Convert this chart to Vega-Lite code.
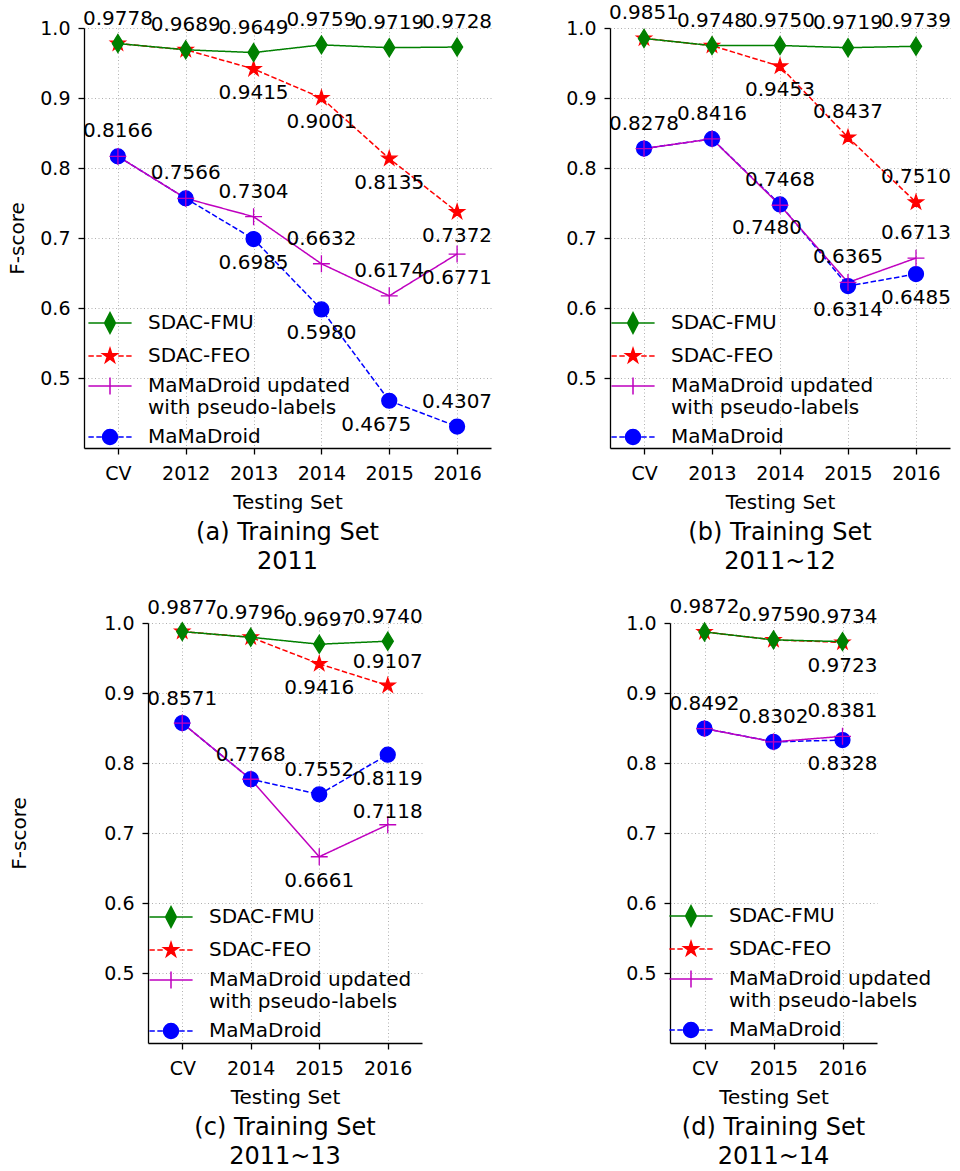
{
"$schema": "https://vega.github.io/schema/vega-lite/v6.json",
"padding": {"left": 7, "top": 3, "right": 0, "bottom": 0},
"config": {
  "font": "DejaVu Sans",
  "view": {"stroke": null},
  "axis": {"domainColor": "black", "domainWidth": 1.3, "tickColor": "black", "tickSize": 6, "tickWidth": 1.3, "labelFont": "DejaVu Sans", "labelFontSize": 19, "labelColor": "black", "titleFont": "DejaVu Sans", "titleFontSize": 20, "titleFontWeight": "normal", "titleColor": "black", "grid": true, "gridColor": "#b0b0b0", "gridDash": [1, 2.5], "gridWidth": 1},
  "axisX": {"labelAngle": 0, "labelPadding": 10, "titlePadding": 9},
  "axisY": {"labelPadding": 8, "titlePadding": 12},
  "title": {"font": "DejaVu Sans", "fontSize": 24, "fontWeight": "normal", "orient": "bottom", "anchor": "middle", "color": "black", "offset": 9, "lineHeight": 29},
  "text": {"font": "DejaVu Sans", "fontSize": 20, "color": "black"}
},
"datasets": {
  "a": [
    {"series": "MaMaDroid", "test": "CV", "f": 0.8166}, {"series": "MaMaDroid", "test": "2012", "f": 0.7566}, {"series": "MaMaDroid", "test": "2013", "f": 0.6985}, {"series": "MaMaDroid", "test": "2014", "f": 0.5980}, {"series": "MaMaDroid", "test": "2015", "f": 0.4675}, {"series": "MaMaDroid", "test": "2016", "f": 0.4307},
    {"series": "MaMaDroid updated with pseudo-labels", "test": "CV", "f": 0.8166}, {"series": "MaMaDroid updated with pseudo-labels", "test": "2012", "f": 0.7566}, {"series": "MaMaDroid updated with pseudo-labels", "test": "2013", "f": 0.7304}, {"series": "MaMaDroid updated with pseudo-labels", "test": "2014", "f": 0.6632}, {"series": "MaMaDroid updated with pseudo-labels", "test": "2015", "f": 0.6174}, {"series": "MaMaDroid updated with pseudo-labels", "test": "2016", "f": 0.6771},
    {"series": "SDAC-FEO", "test": "CV", "f": 0.9778}, {"series": "SDAC-FEO", "test": "2012", "f": 0.9689}, {"series": "SDAC-FEO", "test": "2013", "f": 0.9415}, {"series": "SDAC-FEO", "test": "2014", "f": 0.9001}, {"series": "SDAC-FEO", "test": "2015", "f": 0.8135}, {"series": "SDAC-FEO", "test": "2016", "f": 0.7372},
    {"series": "SDAC-FMU", "test": "CV", "f": 0.9778}, {"series": "SDAC-FMU", "test": "2012", "f": 0.9689}, {"series": "SDAC-FMU", "test": "2013", "f": 0.9649}, {"series": "SDAC-FMU", "test": "2014", "f": 0.9759}, {"series": "SDAC-FMU", "test": "2015", "f": 0.9719}, {"series": "SDAC-FMU", "test": "2016", "f": 0.9728}
  ],
  "b": [
    {"series": "MaMaDroid", "test": "CV", "f": 0.8278}, {"series": "MaMaDroid", "test": "2013", "f": 0.8416}, {"series": "MaMaDroid", "test": "2014", "f": 0.7480}, {"series": "MaMaDroid", "test": "2015", "f": 0.6314}, {"series": "MaMaDroid", "test": "2016", "f": 0.6485},
    {"series": "MaMaDroid updated with pseudo-labels", "test": "CV", "f": 0.8278}, {"series": "MaMaDroid updated with pseudo-labels", "test": "2013", "f": 0.8416}, {"series": "MaMaDroid updated with pseudo-labels", "test": "2014", "f": 0.7468}, {"series": "MaMaDroid updated with pseudo-labels", "test": "2015", "f": 0.6365}, {"series": "MaMaDroid updated with pseudo-labels", "test": "2016", "f": 0.6713},
    {"series": "SDAC-FEO", "test": "CV", "f": 0.9851}, {"series": "SDAC-FEO", "test": "2013", "f": 0.9748}, {"series": "SDAC-FEO", "test": "2014", "f": 0.9453}, {"series": "SDAC-FEO", "test": "2015", "f": 0.8437}, {"series": "SDAC-FEO", "test": "2016", "f": 0.7510},
    {"series": "SDAC-FMU", "test": "CV", "f": 0.9851}, {"series": "SDAC-FMU", "test": "2013", "f": 0.9748}, {"series": "SDAC-FMU", "test": "2014", "f": 0.9750}, {"series": "SDAC-FMU", "test": "2015", "f": 0.9719}, {"series": "SDAC-FMU", "test": "2016", "f": 0.9739}
  ],
  "c": [
    {"series": "MaMaDroid", "test": "CV", "f": 0.8571}, {"series": "MaMaDroid", "test": "2014", "f": 0.7768}, {"series": "MaMaDroid", "test": "2015", "f": 0.7552}, {"series": "MaMaDroid", "test": "2016", "f": 0.8119},
    {"series": "MaMaDroid updated with pseudo-labels", "test": "CV", "f": 0.8571}, {"series": "MaMaDroid updated with pseudo-labels", "test": "2014", "f": 0.7768}, {"series": "MaMaDroid updated with pseudo-labels", "test": "2015", "f": 0.6661}, {"series": "MaMaDroid updated with pseudo-labels", "test": "2016", "f": 0.7118},
    {"series": "SDAC-FEO", "test": "CV", "f": 0.9877}, {"series": "SDAC-FEO", "test": "2014", "f": 0.9796}, {"series": "SDAC-FEO", "test": "2015", "f": 0.9416}, {"series": "SDAC-FEO", "test": "2016", "f": 0.9107},
    {"series": "SDAC-FMU", "test": "CV", "f": 0.9877}, {"series": "SDAC-FMU", "test": "2014", "f": 0.9796}, {"series": "SDAC-FMU", "test": "2015", "f": 0.9697}, {"series": "SDAC-FMU", "test": "2016", "f": 0.9740}
  ],
  "d": [
    {"series": "MaMaDroid", "test": "CV", "f": 0.8492}, {"series": "MaMaDroid", "test": "2015", "f": 0.8302}, {"series": "MaMaDroid", "test": "2016", "f": 0.8328},
    {"series": "MaMaDroid updated with pseudo-labels", "test": "CV", "f": 0.8492}, {"series": "MaMaDroid updated with pseudo-labels", "test": "2015", "f": 0.8302}, {"series": "MaMaDroid updated with pseudo-labels", "test": "2016", "f": 0.8381},
    {"series": "SDAC-FEO", "test": "CV", "f": 0.9872}, {"series": "SDAC-FEO", "test": "2015", "f": 0.9759}, {"series": "SDAC-FEO", "test": "2016", "f": 0.9723},
    {"series": "SDAC-FMU", "test": "CV", "f": 0.9872}, {"series": "SDAC-FMU", "test": "2015", "f": 0.9759}, {"series": "SDAC-FMU", "test": "2016", "f": 0.9734}
  ]
},
"spacing": 22,
"vconcat": [
 {"hconcat": [
  {
   "width": 407, "height": 420,
   "data": {"name": "a"},
   "title": {"text": ["(a) Training Set", "2011"]},
   "encoding": {
     "x": {"field": "test", "type": "ordinal", "scale": {"type": "point", "padding": 0.5, "domain": ["CV", "2012", "2013", "2014", "2015", "2016"]}, "axis": {"title": "Testing Set"}},
     "y": {"field": "f", "type": "quantitative", "scale": {"domain": [0.4, 1.0], "nice": false, "zero": false}, "axis": {"title": "F-score", "values": [0.5, 0.6, 0.7, 0.8, 0.9, 1.0], "format": ".1f"}}
   },
   "layer": [
     {"mark": {"type": "line", "strokeWidth": 1.5},
      "encoding": {
        "stroke": {"field": "series", "type": "nominal", "legend": null, "scale": {"domain": ["SDAC-FMU", "SDAC-FEO", "MaMaDroid updated with pseudo-labels", "MaMaDroid"], "range": ["#008000", "#FF0000", "#BF00BF", "#0000FF"]}},
        "strokeDash": {"field": "series", "type": "nominal", "legend": null, "scale": {"domain": ["SDAC-FMU", "SDAC-FEO", "MaMaDroid updated with pseudo-labels", "MaMaDroid"], "range": [[1, 0], [5.5, 2.4], [1, 0], [5.5, 2.4]]}}
      }},
     {"mark": {"type": "point", "filled": true, "opacity": 1, "size": 324, "strokeWidth": 1.3},
      "encoding": {
        "shape": {"field": "series", "type": "nominal", "legend": null, "scale": {"domain": ["SDAC-FMU", "SDAC-FEO", "MaMaDroid updated with pseudo-labels", "MaMaDroid"], "range": ["M0,-1L0.62,0L0,1L-0.62,0Z", "M0,-0.85L0.19,-0.26L0.81,-0.26L0.31,0.1L0.5,0.69L0,0.32L-0.5,0.69L-0.31,0.1L-0.81,-0.26L-0.19,-0.26Z", "M-0.94,0H0.94M0,-0.94V0.94", "M-0.83,0A0.83,0.83,0,1,0,0.83,0A0.83,0.83,0,1,0,-0.83,0Z"]}},
        "fill": {"field": "series", "type": "nominal", "legend": null, "scale": {"domain": ["SDAC-FMU", "SDAC-FEO", "MaMaDroid updated with pseudo-labels", "MaMaDroid"], "range": ["#008000", "#FF0000", "#BF00BF", "#0000FF"]}},
        "stroke": {"field": "series", "type": "nominal", "legend": null, "scale": {"domain": ["SDAC-FMU", "SDAC-FEO", "MaMaDroid updated with pseudo-labels", "MaMaDroid"], "range": ["#008000", "#FF0000", "#BF00BF", "#0000FF"]}}
      }},
     {"transform": [{"filter": "datum.series=='SDAC-FMU' || (datum.series=='MaMaDroid updated with pseudo-labels' && datum.test!='2016') || (datum.series=='MaMaDroid' && datum.test=='2016')"}],
      "mark": {"type": "text", "dy": -25},
      "encoding": {"text": {"field": "f", "type": "quantitative", "format": ".4f"}}},
     {"transform": [{"filter": "(datum.series=='SDAC-FEO' && datum.test!='CV' && datum.test!='2012') || (datum.series=='MaMaDroid updated with pseudo-labels' && datum.test=='2016') || (datum.series=='MaMaDroid' && indexof(['2013','2014'], datum.test)>=0)"}],
      "mark": {"type": "text", "dy": 24},
      "encoding": {"text": {"field": "f", "type": "quantitative", "format": ".4f"}}},
     {"transform": [{"filter": "datum.series=='MaMaDroid' && datum.test=='2015'"}],
      "mark": {"type": "text", "dy": 24, "dx": -13},
      "encoding": {"text": {"field": "f", "type": "quantitative", "format": ".4f"}}},
     {"transform": [{"filter": "false"}],
      "mark": {"type": "point", "filled": true, "opacity": 1},
      "encoding": {
        "shape": {"field": "series", "type": "nominal", "scale": {"domain": ["SDAC-FMU", "SDAC-FEO", "MaMaDroid updated with pseudo-labels", "MaMaDroid"], "range": ["M-2.4,0H2.4M0,-1.15L0.6,0L0,1.15L-0.6,0Z", "M-2.4,0H-1.8M-1.52,0H-0.92M0.92,0H1.52M1.8,0H2.4M0,-0.85L0.19,-0.26L0.81,-0.26L0.31,0.1L0.5,0.69L0,0.32L-0.5,0.69L-0.31,0.1L-0.81,-0.26L-0.19,-0.26Z", "M-2.4,0H2.4M0,-0.94V0.94", "M-2.4,0H-1.8M-1.52,0H-0.92M0.92,0H1.52M1.8,0H2.4M-0.83,0A0.83,0.83,0,1,0,0.83,0A0.83,0.83,0,1,0,-0.83,0Z"]},
          "legend": {"title": null, "orient": "none", "legendX": 16, "legendY": 285, "padding": 0, "symbolSize": 324, "symbolStrokeWidth": 1.5, "symbolOpacity": 1, "labelFont": "DejaVu Sans", "labelFontSize": 20, "labelColor": "black", "labelOffset": 28, "labelLimit": 400, "rowPadding": 8, "labelExpr": "datum.label == 'MaMaDroid updated with pseudo-labels' ? ['MaMaDroid updated', 'with pseudo-labels'] : datum.label"}},
        "fill": {"field": "series", "type": "nominal", "scale": {"domain": ["SDAC-FMU", "SDAC-FEO", "MaMaDroid updated with pseudo-labels", "MaMaDroid"], "range": ["#008000", "#FF0000", "#BF00BF", "#0000FF"]},
          "legend": {"title": null, "orient": "none", "legendX": 16, "legendY": 285, "padding": 0, "symbolSize": 324, "symbolStrokeWidth": 1.5, "symbolOpacity": 1, "labelFont": "DejaVu Sans", "labelFontSize": 20, "labelColor": "black", "labelOffset": 28, "labelLimit": 400, "rowPadding": 8, "labelExpr": "datum.label == 'MaMaDroid updated with pseudo-labels' ? ['MaMaDroid updated', 'with pseudo-labels'] : datum.label"}},
        "stroke": {"field": "series", "type": "nominal", "scale": {"domain": ["SDAC-FMU", "SDAC-FEO", "MaMaDroid updated with pseudo-labels", "MaMaDroid"], "range": ["#008000", "#FF0000", "#BF00BF", "#0000FF"]},
          "legend": {"title": null, "orient": "none", "legendX": 16, "legendY": 285, "padding": 0, "symbolSize": 324, "symbolStrokeWidth": 1.5, "symbolOpacity": 1, "labelFont": "DejaVu Sans", "labelFontSize": 20, "labelColor": "black", "labelOffset": 28, "labelLimit": 400, "rowPadding": 8, "labelExpr": "datum.label == 'MaMaDroid updated with pseudo-labels' ? ['MaMaDroid updated', 'with pseudo-labels'] : datum.label"}}
      }}
   ],
   "resolve": {"scale": {"shape": "independent", "fill": "independent", "stroke": "independent", "strokeDash": "independent"}}
  },
  {
   "width": 340, "height": 420,
   "data": {"name": "b"},
   "title": {"text": ["(b) Training Set", "2011~12"]},
   "encoding": {
     "x": {"field": "test", "type": "ordinal", "scale": {"type": "point", "padding": 0.5, "domain": ["CV", "2013", "2014", "2015", "2016"]}, "axis": {"title": "Testing Set"}},
     "y": {"field": "f", "type": "quantitative", "scale": {"domain": [0.4, 1.0], "nice": false, "zero": false}, "axis": {"title": null, "values": [0.5, 0.6, 0.7, 0.8, 0.9, 1.0], "format": ".1f"}}
   },
   "layer": [
     {"mark": {"type": "line", "strokeWidth": 1.5},
      "encoding": {
        "stroke": {"field": "series", "type": "nominal", "legend": null, "scale": {"domain": ["SDAC-FMU", "SDAC-FEO", "MaMaDroid updated with pseudo-labels", "MaMaDroid"], "range": ["#008000", "#FF0000", "#BF00BF", "#0000FF"]}},
        "strokeDash": {"field": "series", "type": "nominal", "legend": null, "scale": {"domain": ["SDAC-FMU", "SDAC-FEO", "MaMaDroid updated with pseudo-labels", "MaMaDroid"], "range": [[1, 0], [5.5, 2.4], [1, 0], [5.5, 2.4]]}}
      }},
     {"mark": {"type": "point", "filled": true, "opacity": 1, "size": 324, "strokeWidth": 1.3},
      "encoding": {
        "shape": {"field": "series", "type": "nominal", "legend": null, "scale": {"domain": ["SDAC-FMU", "SDAC-FEO", "MaMaDroid updated with pseudo-labels", "MaMaDroid"], "range": ["M0,-1L0.62,0L0,1L-0.62,0Z", "M0,-0.85L0.19,-0.26L0.81,-0.26L0.31,0.1L0.5,0.69L0,0.32L-0.5,0.69L-0.31,0.1L-0.81,-0.26L-0.19,-0.26Z", "M-0.94,0H0.94M0,-0.94V0.94", "M-0.83,0A0.83,0.83,0,1,0,0.83,0A0.83,0.83,0,1,0,-0.83,0Z"]}},
        "fill": {"field": "series", "type": "nominal", "legend": null, "scale": {"domain": ["SDAC-FMU", "SDAC-FEO", "MaMaDroid updated with pseudo-labels", "MaMaDroid"], "range": ["#008000", "#FF0000", "#BF00BF", "#0000FF"]}},
        "stroke": {"field": "series", "type": "nominal", "legend": null, "scale": {"domain": ["SDAC-FMU", "SDAC-FEO", "MaMaDroid updated with pseudo-labels", "MaMaDroid"], "range": ["#008000", "#FF0000", "#BF00BF", "#0000FF"]}}
      }},
     {"transform": [{"filter": "datum.series=='SDAC-FMU' || datum.series=='MaMaDroid updated with pseudo-labels' || (datum.series=='SDAC-FEO' && (datum.test=='2015' || datum.test=='2016'))"}],
      "mark": {"type": "text", "dy": -25},
      "encoding": {"text": {"field": "f", "type": "quantitative", "format": ".4f"}}},
     {"transform": [{"filter": "(datum.series=='SDAC-FEO' && datum.test=='2014') || (datum.series=='MaMaDroid' && indexof(['2015','2016'], datum.test)>=0)"}],
      "mark": {"type": "text", "dy": 24},
      "encoding": {"text": {"field": "f", "type": "quantitative", "format": ".4f"}}},
     {"transform": [{"filter": "datum.series=='MaMaDroid' && datum.test=='2014'"}],
      "mark": {"type": "text", "dy": 24, "dx": -13},
      "encoding": {"text": {"field": "f", "type": "quantitative", "format": ".4f"}}},
     {"transform": [{"filter": "false"}],
      "mark": {"type": "point", "filled": true, "opacity": 1},
      "encoding": {
        "shape": {"field": "series", "type": "nominal", "scale": {"domain": ["SDAC-FMU", "SDAC-FEO", "MaMaDroid updated with pseudo-labels", "MaMaDroid"], "range": ["M-2.4,0H2.4M0,-1.15L0.6,0L0,1.15L-0.6,0Z", "M-2.4,0H-1.8M-1.52,0H-0.92M0.92,0H1.52M1.8,0H2.4M0,-0.85L0.19,-0.26L0.81,-0.26L0.31,0.1L0.5,0.69L0,0.32L-0.5,0.69L-0.31,0.1L-0.81,-0.26L-0.19,-0.26Z", "M-2.4,0H2.4M0,-0.94V0.94", "M-2.4,0H-1.8M-1.52,0H-0.92M0.92,0H1.52M1.8,0H2.4M-0.83,0A0.83,0.83,0,1,0,0.83,0A0.83,0.83,0,1,0,-0.83,0Z"]},
          "legend": {"title": null, "orient": "none", "legendX": 13, "legendY": 285, "padding": 0, "symbolSize": 324, "symbolStrokeWidth": 1.5, "symbolOpacity": 1, "labelFont": "DejaVu Sans", "labelFontSize": 20, "labelColor": "black", "labelOffset": 28, "labelLimit": 400, "rowPadding": 8, "labelExpr": "datum.label == 'MaMaDroid updated with pseudo-labels' ? ['MaMaDroid updated', 'with pseudo-labels'] : datum.label"}},
        "fill": {"field": "series", "type": "nominal", "scale": {"domain": ["SDAC-FMU", "SDAC-FEO", "MaMaDroid updated with pseudo-labels", "MaMaDroid"], "range": ["#008000", "#FF0000", "#BF00BF", "#0000FF"]},
          "legend": {"title": null, "orient": "none", "legendX": 13, "legendY": 285, "padding": 0, "symbolSize": 324, "symbolStrokeWidth": 1.5, "symbolOpacity": 1, "labelFont": "DejaVu Sans", "labelFontSize": 20, "labelColor": "black", "labelOffset": 28, "labelLimit": 400, "rowPadding": 8, "labelExpr": "datum.label == 'MaMaDroid updated with pseudo-labels' ? ['MaMaDroid updated', 'with pseudo-labels'] : datum.label"}},
        "stroke": {"field": "series", "type": "nominal", "scale": {"domain": ["SDAC-FMU", "SDAC-FEO", "MaMaDroid updated with pseudo-labels", "MaMaDroid"], "range": ["#008000", "#FF0000", "#BF00BF", "#0000FF"]},
          "legend": {"title": null, "orient": "none", "legendX": 13, "legendY": 285, "padding": 0, "symbolSize": 324, "symbolStrokeWidth": 1.5, "symbolOpacity": 1, "labelFont": "DejaVu Sans", "labelFontSize": 20, "labelColor": "black", "labelOffset": 28, "labelLimit": 400, "rowPadding": 8, "labelExpr": "datum.label == 'MaMaDroid updated with pseudo-labels' ? ['MaMaDroid updated', 'with pseudo-labels'] : datum.label"}}
      }}
   ],
   "resolve": {"scale": {"shape": "independent", "fill": "independent", "stroke": "independent", "strokeDash": "independent"}}
  }
 ], "spacing": 72},
 {"hconcat": [
  {
   "width": 338, "height": 420,
   "data": {"name": "c"},
   "title": {"text": ["(c) Training Set", "2011~13"], "dx": 32},
   "encoding": {
     "x": {"field": "test", "type": "ordinal", "scale": {"type": "point", "padding": 0.5, "domain": ["CV", "2014", "2015", "2016"], "range": [64, 338]}, "axis": {"title": "Testing Set"}},
     "y": {"field": "f", "type": "quantitative", "scale": {"domain": [0.4, 1.0], "nice": false, "zero": false}, "axis": {"title": "F-score", "offset": -64, "titlePadding": 74, "values": [0.5, 0.6, 0.7, 0.8, 0.9, 1.0], "format": ".1f"}}
   },
   "layer": [
     {"mark": {"type": "line", "strokeWidth": 1.5},
      "encoding": {
        "stroke": {"field": "series", "type": "nominal", "legend": null, "scale": {"domain": ["SDAC-FMU", "SDAC-FEO", "MaMaDroid updated with pseudo-labels", "MaMaDroid"], "range": ["#008000", "#FF0000", "#BF00BF", "#0000FF"]}},
        "strokeDash": {"field": "series", "type": "nominal", "legend": null, "scale": {"domain": ["SDAC-FMU", "SDAC-FEO", "MaMaDroid updated with pseudo-labels", "MaMaDroid"], "range": [[1, 0], [5.5, 2.4], [1, 0], [5.5, 2.4]]}}
      }},
     {"mark": {"type": "point", "filled": true, "opacity": 1, "size": 324, "strokeWidth": 1.3},
      "encoding": {
        "shape": {"field": "series", "type": "nominal", "legend": null, "scale": {"domain": ["SDAC-FMU", "SDAC-FEO", "MaMaDroid updated with pseudo-labels", "MaMaDroid"], "range": ["M0,-1L0.62,0L0,1L-0.62,0Z", "M0,-0.85L0.19,-0.26L0.81,-0.26L0.31,0.1L0.5,0.69L0,0.32L-0.5,0.69L-0.31,0.1L-0.81,-0.26L-0.19,-0.26Z", "M-0.94,0H0.94M0,-0.94V0.94", "M-0.83,0A0.83,0.83,0,1,0,0.83,0A0.83,0.83,0,1,0,-0.83,0Z"]}},
        "fill": {"field": "series", "type": "nominal", "legend": null, "scale": {"domain": ["SDAC-FMU", "SDAC-FEO", "MaMaDroid updated with pseudo-labels", "MaMaDroid"], "range": ["#008000", "#FF0000", "#BF00BF", "#0000FF"]}},
        "stroke": {"field": "series", "type": "nominal", "legend": null, "scale": {"domain": ["SDAC-FMU", "SDAC-FEO", "MaMaDroid updated with pseudo-labels", "MaMaDroid"], "range": ["#008000", "#FF0000", "#BF00BF", "#0000FF"]}}
      }},
     {"transform": [{"filter": "datum.series=='SDAC-FMU' || (datum.series=='SDAC-FEO' && datum.test=='2016') || (datum.series=='MaMaDroid updated with pseudo-labels' && (datum.test=='CV' || datum.test=='2014')) || (datum.series=='MaMaDroid' && datum.test=='2015')"}],
      "mark": {"type": "text", "dy": -24},
      "encoding": {"text": {"field": "f", "type": "quantitative", "format": ".4f"}}},
     {"transform": [{"filter": "datum.series=='MaMaDroid updated with pseudo-labels' && datum.test=='2016'"}],
      "mark": {"type": "text", "dy": -13},
      "encoding": {"text": {"field": "f", "type": "quantitative", "format": ".4f"}}},
     {"transform": [{"filter": "(datum.series=='SDAC-FEO' && datum.test=='2015') || (datum.series=='MaMaDroid updated with pseudo-labels' && datum.test=='2015') || (datum.series=='MaMaDroid' && datum.test=='2016')"}],
      "mark": {"type": "text", "dy": 24},
      "encoding": {"text": {"field": "f", "type": "quantitative", "format": ".4f"}}},
     {"transform": [{"filter": "false"}],
      "mark": {"type": "point", "filled": true, "opacity": 1},
      "encoding": {
        "shape": {"field": "series", "type": "nominal", "scale": {"domain": ["SDAC-FMU", "SDAC-FEO", "MaMaDroid updated with pseudo-labels", "MaMaDroid"], "range": ["M-2.4,0H2.4M0,-1.15L0.6,0L0,1.15L-0.6,0Z", "M-2.4,0H-1.8M-1.52,0H-0.92M0.92,0H1.52M1.8,0H2.4M0,-0.85L0.19,-0.26L0.81,-0.26L0.31,0.1L0.5,0.69L0,0.32L-0.5,0.69L-0.31,0.1L-0.81,-0.26L-0.19,-0.26Z", "M-2.4,0H2.4M0,-0.94V0.94", "M-2.4,0H-1.8M-1.52,0H-0.92M0.92,0H1.52M1.8,0H2.4M-0.83,0A0.83,0.83,0,1,0,0.83,0A0.83,0.83,0,1,0,-0.83,0Z"]},
          "legend": {"title": null, "orient": "none", "legendX": 77, "legendY": 284, "padding": 0, "symbolSize": 324, "symbolStrokeWidth": 1.5, "symbolOpacity": 1, "labelFont": "DejaVu Sans", "labelFontSize": 20, "labelColor": "black", "labelOffset": 28, "labelLimit": 400, "rowPadding": 8, "labelExpr": "datum.label == 'MaMaDroid updated with pseudo-labels' ? ['MaMaDroid updated', 'with pseudo-labels'] : datum.label"}},
        "fill": {"field": "series", "type": "nominal", "scale": {"domain": ["SDAC-FMU", "SDAC-FEO", "MaMaDroid updated with pseudo-labels", "MaMaDroid"], "range": ["#008000", "#FF0000", "#BF00BF", "#0000FF"]},
          "legend": {"title": null, "orient": "none", "legendX": 77, "legendY": 284, "padding": 0, "symbolSize": 324, "symbolStrokeWidth": 1.5, "symbolOpacity": 1, "labelFont": "DejaVu Sans", "labelFontSize": 20, "labelColor": "black", "labelOffset": 28, "labelLimit": 400, "rowPadding": 8, "labelExpr": "datum.label == 'MaMaDroid updated with pseudo-labels' ? ['MaMaDroid updated', 'with pseudo-labels'] : datum.label"}},
        "stroke": {"field": "series", "type": "nominal", "scale": {"domain": ["SDAC-FMU", "SDAC-FEO", "MaMaDroid updated with pseudo-labels", "MaMaDroid"], "range": ["#008000", "#FF0000", "#BF00BF", "#0000FF"]},
          "legend": {"title": null, "orient": "none", "legendX": 77, "legendY": 284, "padding": 0, "symbolSize": 324, "symbolStrokeWidth": 1.5, "symbolOpacity": 1, "labelFont": "DejaVu Sans", "labelFontSize": 20, "labelColor": "black", "labelOffset": 28, "labelLimit": 400, "rowPadding": 8, "labelExpr": "datum.label == 'MaMaDroid updated with pseudo-labels' ? ['MaMaDroid updated', 'with pseudo-labels'] : datum.label"}}
      }}
   ],
   "resolve": {"scale": {"shape": "independent", "fill": "independent", "stroke": "independent", "strokeDash": "independent"}}
  },
  {
   "width": 207, "height": 420,
   "data": {"name": "d"},
   "title": {"text": ["(d) Training Set", "2011~14"]},
   "encoding": {
     "x": {"field": "test", "type": "ordinal", "scale": {"type": "point", "padding": 0.5, "domain": ["CV", "2015", "2016"]}, "axis": {"title": "Testing Set"}},
     "y": {"field": "f", "type": "quantitative", "scale": {"domain": [0.4, 1.0], "nice": false, "zero": false}, "axis": {"title": null, "values": [0.5, 0.6, 0.7, 0.8, 0.9, 1.0], "format": ".1f"}}
   },
   "layer": [
     {"mark": {"type": "line", "strokeWidth": 1.5},
      "encoding": {
        "stroke": {"field": "series", "type": "nominal", "legend": null, "scale": {"domain": ["SDAC-FMU", "SDAC-FEO", "MaMaDroid updated with pseudo-labels", "MaMaDroid"], "range": ["#008000", "#FF0000", "#BF00BF", "#0000FF"]}},
        "strokeDash": {"field": "series", "type": "nominal", "legend": null, "scale": {"domain": ["SDAC-FMU", "SDAC-FEO", "MaMaDroid updated with pseudo-labels", "MaMaDroid"], "range": [[1, 0], [5.5, 2.4], [1, 0], [5.5, 2.4]]}}
      }},
     {"mark": {"type": "point", "filled": true, "opacity": 1, "size": 324, "strokeWidth": 1.3},
      "encoding": {
        "shape": {"field": "series", "type": "nominal", "legend": null, "scale": {"domain": ["SDAC-FMU", "SDAC-FEO", "MaMaDroid updated with pseudo-labels", "MaMaDroid"], "range": ["M0,-1L0.62,0L0,1L-0.62,0Z", "M0,-0.85L0.19,-0.26L0.81,-0.26L0.31,0.1L0.5,0.69L0,0.32L-0.5,0.69L-0.31,0.1L-0.81,-0.26L-0.19,-0.26Z", "M-0.94,0H0.94M0,-0.94V0.94", "M-0.83,0A0.83,0.83,0,1,0,0.83,0A0.83,0.83,0,1,0,-0.83,0Z"]}},
        "fill": {"field": "series", "type": "nominal", "legend": null, "scale": {"domain": ["SDAC-FMU", "SDAC-FEO", "MaMaDroid updated with pseudo-labels", "MaMaDroid"], "range": ["#008000", "#FF0000", "#BF00BF", "#0000FF"]}},
        "stroke": {"field": "series", "type": "nominal", "legend": null, "scale": {"domain": ["SDAC-FMU", "SDAC-FEO", "MaMaDroid updated with pseudo-labels", "MaMaDroid"], "range": ["#008000", "#FF0000", "#BF00BF", "#0000FF"]}}
      }},
     {"transform": [{"filter": "datum.series=='SDAC-FMU' || datum.series=='MaMaDroid updated with pseudo-labels'"}],
      "mark": {"type": "text", "dy": -25},
      "encoding": {"text": {"field": "f", "type": "quantitative", "format": ".4f"}}},
     {"transform": [{"filter": "datum.test=='2016' && (datum.series=='SDAC-FEO' || datum.series=='MaMaDroid')"}],
      "mark": {"type": "text", "dy": 24},
      "encoding": {"text": {"field": "f", "type": "quantitative", "format": ".4f"}}},
     {"transform": [{"filter": "false"}],
      "mark": {"type": "point", "filled": true, "opacity": 1},
      "encoding": {
        "shape": {"field": "series", "type": "nominal", "scale": {"domain": ["SDAC-FMU", "SDAC-FEO", "MaMaDroid updated with pseudo-labels", "MaMaDroid"], "range": ["M-2.4,0H2.4M0,-1.15L0.6,0L0,1.15L-0.6,0Z", "M-2.4,0H-1.8M-1.52,0H-0.92M0.92,0H1.52M1.8,0H2.4M0,-0.85L0.19,-0.26L0.81,-0.26L0.31,0.1L0.5,0.69L0,0.32L-0.5,0.69L-0.31,0.1L-0.81,-0.26L-0.19,-0.26Z", "M-2.4,0H2.4M0,-0.94V0.94", "M-2.4,0H-1.8M-1.52,0H-0.92M0.92,0H1.52M1.8,0H2.4M-0.83,0A0.83,0.83,0,1,0,0.83,0A0.83,0.83,0,1,0,-0.83,0Z"]},
          "legend": {"title": null, "orient": "none", "legendX": 11, "legendY": 283, "padding": 0, "symbolSize": 324, "symbolStrokeWidth": 1.5, "symbolOpacity": 1, "labelFont": "DejaVu Sans", "labelFontSize": 20, "labelColor": "black", "labelOffset": 28, "labelLimit": 400, "rowPadding": 8, "labelExpr": "datum.label == 'MaMaDroid updated with pseudo-labels' ? ['MaMaDroid updated', 'with pseudo-labels'] : datum.label"}},
        "fill": {"field": "series", "type": "nominal", "scale": {"domain": ["SDAC-FMU", "SDAC-FEO", "MaMaDroid updated with pseudo-labels", "MaMaDroid"], "range": ["#008000", "#FF0000", "#BF00BF", "#0000FF"]},
          "legend": {"title": null, "orient": "none", "legendX": 11, "legendY": 283, "padding": 0, "symbolSize": 324, "symbolStrokeWidth": 1.5, "symbolOpacity": 1, "labelFont": "DejaVu Sans", "labelFontSize": 20, "labelColor": "black", "labelOffset": 28, "labelLimit": 400, "rowPadding": 8, "labelExpr": "datum.label == 'MaMaDroid updated with pseudo-labels' ? ['MaMaDroid updated', 'with pseudo-labels'] : datum.label"}},
        "stroke": {"field": "series", "type": "nominal", "scale": {"domain": ["SDAC-FMU", "SDAC-FEO", "MaMaDroid updated with pseudo-labels", "MaMaDroid"], "range": ["#008000", "#FF0000", "#BF00BF", "#0000FF"]},
          "legend": {"title": null, "orient": "none", "legendX": 11, "legendY": 283, "padding": 0, "symbolSize": 324, "symbolStrokeWidth": 1.5, "symbolOpacity": 1, "labelFont": "DejaVu Sans", "labelFontSize": 20, "labelColor": "black", "labelOffset": 28, "labelLimit": 400, "rowPadding": 8, "labelExpr": "datum.label == 'MaMaDroid updated with pseudo-labels' ? ['MaMaDroid updated', 'with pseudo-labels'] : datum.label"}}
      }}
   ],
   "resolve": {"scale": {"shape": "independent", "fill": "independent", "stroke": "independent", "strokeDash": "independent"}}
  }
 ], "spacing": 202}
]
}
